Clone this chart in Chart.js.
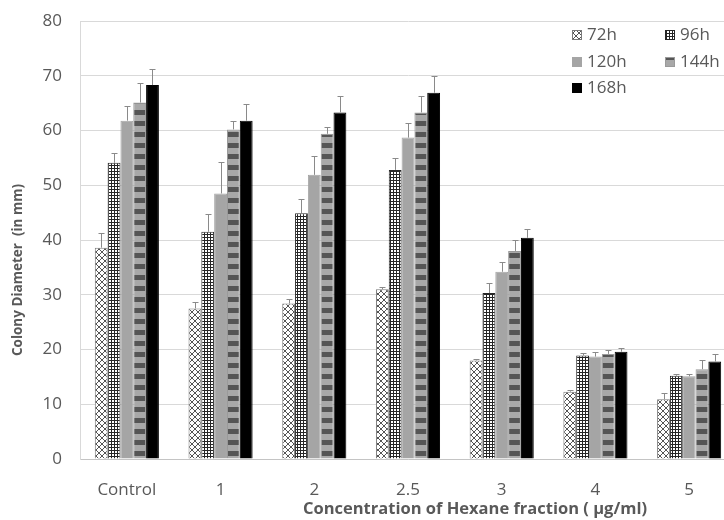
<!DOCTYPE html>
<html>
<head>
<meta charset="utf-8">
<script src="https://cdn.jsdelivr.net/npm/chart.js@4/dist/chart.umd.min.js"></script>
<style>
  html, body { margin: 0; padding: 0; background: #fff; overflow: hidden; }
  canvas { display: block; }
</style>
</head>
<body>
<canvas id="c" width="736" height="520"></canvas>
<script>
// Colony diameter (mm) per incubation time, by hexane fraction concentration
const categories = ['Control', '1', '2', '2.5', '3', '4', '5'];
const seriesLabels = ['72h', '96h', '120h', '144h', '168h'];

const h72  = [38.6, 27.5, 28.4, 31.0, 18.0, 12.3, 10.9];
const h96  = [54.1, 41.5, 44.9, 52.8, 30.3, 18.9, 15.2];
const h120 = [61.8, 48.5, 51.9, 58.7, 34.2, 18.7, 15.1];
const h144 = [65.1, 60.2, 59.4, 63.3, 38.0, 19.2, 16.4];
const h168 = [68.3, 61.8, 63.3, 66.9, 40.4, 19.6, 17.8];

// standard deviations (upper error bars)
const e72  = [2.7, 1.1, 0.8, 0.5, 0.3, 0.3, 1.2];
const e96  = [1.8, 3.2, 2.5, 2.1, 1.8, 0.4, 0.4];
const e120 = [2.7, 5.8, 3.4, 2.6, 1.8, 0.8, 0.4];
const e144 = [3.5, 1.5, 1.3, 3.0, 2.0, 0.7, 1.7];
const e168 = [2.9, 3.0, 3.0, 3.1, 1.6, 0.7, 1.3];

const yMin = 0, yMax = 80, yStep = 10;
const xTitle = 'Concentration of Hexane fraction ( µg/ml)';
const yTitle = 'Colony Diameter  (in mm)';

const canvas = document.getElementById('c');
const ctx0 = canvas.getContext('2d');

function tile(w, h, draw) {
  const c = document.createElement('canvas');
  c.width = w; c.height = h;
  draw(c.getContext('2d'), w, h);
  return ctx0.createPattern(c, 'repeat');
}

// fill patterns
const crossHatch = tile(6, 6, (g, w, h) => {
  g.fillStyle = '#fff'; g.fillRect(0, 0, w, h);
  g.strokeStyle = '#555'; g.lineWidth = 1;
  g.beginPath();
  g.moveTo(-1, -1); g.lineTo(w + 1, h + 1);
  g.moveTo(w + 1, -1); g.lineTo(-1, h + 1);
  g.stroke();
});
const smallGrid = tile(3, 3, (g, w, h) => {
  g.fillStyle = '#fff'; g.fillRect(0, 0, w, h);
  g.fillStyle = '#262626';
  g.fillRect(0, 0, w, 1);
  g.fillRect(0, 0, 1, h);
});
const stripes = tile(4, 11, (g, w, h) => {
  g.fillStyle = '#a8a8a8'; g.fillRect(0, 0, w, h);
  g.fillStyle = '#555'; g.fillRect(0, 0, w, 5);
});

const fills = [crossHatch, smallGrid, '#a5a5a5', stripes, '#000'];
const borders = ['#7a7a7a', '#262626', '#a5a5a5', '#9a9a9a', '#000'];
const values = [h72, h96, h120, h144, h168];
const errors = [e72, e96, e120, e144, e168];

const datasets = seriesLabels.map((label, i) => ({
  label,
  data: values[i],
  errors: errors[i],
  backgroundColor: fills[i],
  borderColor: borders[i],
  borderWidth: 1,
  categoryPercentage: 0.684,
  barPercentage: 1.0
}));

const textColor = '#595959';
const fontFamily = '"Open Sans", sans-serif';

// upper error bars with caps
const errorBars = {
  id: 'errorBars',
  afterDatasetsDraw(chart) {
    const { ctx, scales: { y } } = chart;
    ctx.save();
    ctx.strokeStyle = '#8a8a8a';
    ctx.lineWidth = 1;
    chart.data.datasets.forEach((ds, i) => {
      chart.getDatasetMeta(i).data.forEach((bar, j) => {
        const top = Math.round(y.getPixelForValue(ds.data[j] + ds.errors[j])) + 0.5;
        const x = Math.round(bar.x) + 0.5;
        ctx.beginPath();
        ctx.moveTo(x, bar.y);
        ctx.lineTo(x, top);
        ctx.moveTo(x - 3, top);
        ctx.lineTo(x + 3, top);
        ctx.stroke();
      });
    });
    ctx.restore();
  }
};

// two-column legend inside the plot and the axis titles
const annotations = {
  id: 'annotations',
  afterDraw(chart) {
    const { ctx } = chart;
    ctx.save();
    ctx.font = '17px ' + fontFamily;
    ctx.fillStyle = textColor;
    ctx.textBaseline = 'middle';
    const cols = [572, 665];
    const rows = [35, 62, 88];
    chart.data.datasets.forEach((ds, i) => {
      const sx = cols[i % 2];
      const sy = rows[Math.floor(i / 2)];
      ctx.fillStyle = ds.backgroundColor;
      ctx.fillRect(sx, sy - 5, 10, 10);
      ctx.strokeStyle = ds.borderColor;
      ctx.lineWidth = 1;
      ctx.strokeRect(sx + 0.5, sy - 4.5, 9, 9);
      ctx.fillStyle = textColor;
      ctx.textAlign = 'left';
      ctx.fillText(ds.label, sx + 15, sy);
    });

    ctx.font = 'bold 16.5px ' + fontFamily;
    ctx.textAlign = 'center';
    ctx.fillText(xTitle, 475, 509);

    ctx.translate(18, 270);
    ctx.rotate(-Math.PI / 2);
    ctx.font = 'bold 13.5px ' + fontFamily;
    ctx.fillText(yTitle, 0, 0);
    ctx.restore();
  }
};

new Chart(canvas, {
  type: 'bar',
  data: { labels: categories, datasets },
  options: {
    responsive: false,
    animation: false,
    devicePixelRatio: 1,
    layout: { padding: { top: 21, right: 0, left: 0, bottom: 0 } },
    plugins: {
      legend: { display: false },
      tooltip: { enabled: false }
    },
    scales: {
      x: {
        grid: { display: false },
        border: { display: true, color: '#c4c4c4', width: 1 },
        ticks: {
          color: textColor,
          font: { family: fontFamily, size: 17 },
          padding: 13,
          maxRotation: 0,
          autoSkip: false
        },
        afterFit(s) { s.height = 61; s.paddingLeft = 0; s.paddingRight = 0; }
      },
      y: {
        min: yMin,
        max: yMax,
        grid: { color: '#d9d9d9', drawTicks: false },
        border: { display: true, color: '#d9d9d9' },
        ticks: {
          stepSize: yStep,
          color: textColor,
          font: { family: fontFamily, size: 17 },
          padding: 18
        },
        afterFit(s) { s.width = 80; s.paddingTop = 0; s.paddingBottom = 0; }
      }
    }
  },
  plugins: [errorBars, annotations]
});
</script>
</body>
</html>
